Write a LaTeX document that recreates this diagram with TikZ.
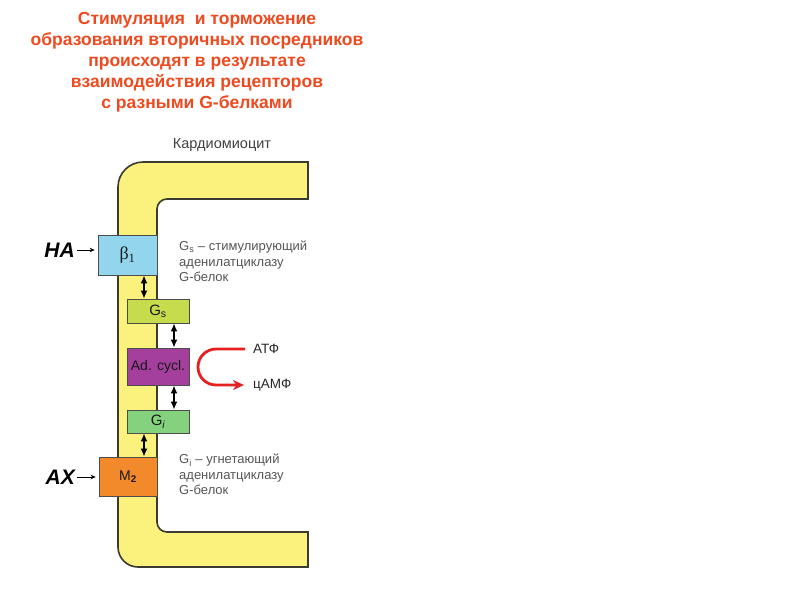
\documentclass[tikz,border=0pt]{standalone}
\usepackage{fontspec}
\setmainfont{Liberation Sans}
\newfontfamily\seriffont{Liberation Serif}
\usetikzlibrary{arrows.meta}
\definecolor{memb}{HTML}{FAF27C}
\definecolor{membline}{HTML}{3A3A30}
\definecolor{cbeta}{HTML}{92D5EC}
\definecolor{cgs}{HTML}{C6DC4C}
\definecolor{cad}{HTML}{A43F9E}
\definecolor{cgi}{HTML}{84D27E}
\definecolor{cm}{HTML}{F28A2C}
\definecolor{ctitle}{HTML}{EE4A20}
\definecolor{cgray}{HTML}{555555}
\definecolor{cred}{HTML}{E42020}
\tikzset{
  protbox/.style={draw=black!70, line width=0.7pt, inner sep=0pt, text=black!90},
  dbl/.style={line width=2pt, {Latex[length=8pt,width=7pt]}-{Latex[length=8pt,width=7pt]}},
  ligand/.style={font=\fontsize{21}{21}\selectfont\bfseries\itshape, inner sep=0pt},
  ligarrow/.style={line width=0.9pt, -{Stealth[length=5pt,width=4.5pt]}, shorten >=3pt, shorten <=2pt},
  graylabel/.style={font=\fontsize{13}{15.5}\selectfont, text=cgray, align=left, inner sep=0pt},
  redarrow/.style={draw=cred, line width=2.8pt, -{Stealth[length=11pt,width=10pt]}}
}
\begin{document}
\begin{tikzpicture}[x=1pt,y=-1pt]
\useasboundingbox (0,0) rectangle (800,600);
\fill[white] (0,0) rectangle (800,600);

% title
\node[anchor=north, align=center, text=ctitle, inner sep=0pt,
      font=\fontsize{17.5}{21}\selectfont\bfseries] (title) at (197,12)
  {Стимуляция\ \ и торможение\\образования вторичных посредников\\происходят в результате\\взаимодействия рецепторов\\с разными G-белками};

% membrane
\filldraw[fill=memb, draw=membline, line width=1.6pt]
  (308,162) -- (143,162) arc[start angle=-90, end angle=-180, radius=25]
  -- (118,547) arc[start angle=180, end angle=90, radius=20]
  -- (308,567) -- (308,532) -- (167,532)
  arc[start angle=90, end angle=180, radius=10]
  -- (157,209) arc[start angle=180, end angle=270, radius=10]
  -- (308,199) -- cycle;

\node[font=\fontsize{14.5}{15}\selectfont, text=black!75] (cardio) at (222,145) {Кардиомиоцит};

% proteins
\node[protbox, fill=cbeta, minimum width=59pt, minimum height=40pt,
      font=\seriffont\fontsize{18}{18}\selectfont] (b1) at (127.5,255) {β\textsubscript{1}};
\node[protbox, fill=cgs, minimum width=62pt, minimum height=24pt,
      font=\fontsize{15}{15}\selectfont] (gs) at (158,311) {G\textsubscript{s}};
\node[protbox, fill=cad, minimum width=62pt, minimum height=37pt,
      font=\fontsize{14}{14}\selectfont] (ad) at (158,366.5) {Ad. cycl.};
\node[protbox, fill=cgi, minimum width=62pt, minimum height=23pt,
      font=\fontsize{15}{15}\selectfont] (gi) at (158,421.5) {G\textsubscript{\itshape i}};
\node[protbox, fill=cm, minimum width=58pt, minimum height=39pt,
      font=\fontsize{14}{14}\selectfont] (m2) at (128,476.5) {M\textsubscript{\bfseries 2}};

% double arrows
\draw[dbl] ([xshift=16.5pt]b1.south) -- ([xshift=16.5pt]b1.south |- gs.north);
\draw[dbl] ([xshift=16pt]gs.south) -- ([xshift=16pt]ad.north);
\draw[dbl] ([xshift=16pt]ad.south) -- ([xshift=16pt]gi.north);
\draw[dbl] ([xshift=16pt]m2.north |- gi.south) -- ([xshift=16pt]m2.north);

% ligands
\node[ligand, anchor=east] (ha) at (75,250) {НА};
\node[ligand, anchor=east] (ach) at (75,477) {АХ};
\draw[ligarrow] (ha.east) -- (ha.east -| b1.west);
\draw[ligarrow] (ach.east) -- (ach.east -| m2.west);

% labels
\node[graylabel, anchor=north west] (gslab) at (179,241)
  {G\textsubscript{s} – стимулирующий\\аденилатциклазу\\G-белок};
\node[graylabel, anchor=north west] (gilab) at (179,454)
  {G\textsubscript{i} – угнетающий\\аденилатциклазу\\G-белок};

% ATP -> cAMP
\node[anchor=west, inner sep=0pt, font=\fontsize{13.5}{15}\selectfont, text=black!85] (atf) at (253,349) {АТФ};
\node[anchor=west, inner sep=0pt, font=\fontsize{13.5}{15}\selectfont, text=black!85] (camp) at (253,385) {цАМФ};
\draw[redarrow] ([xshift=-8pt]atf.west) -- (216,349)
  arc[start angle=-90, end angle=-270, radius=18] -- ([xshift=-9pt]camp.west);
\end{tikzpicture}
\end{document}
